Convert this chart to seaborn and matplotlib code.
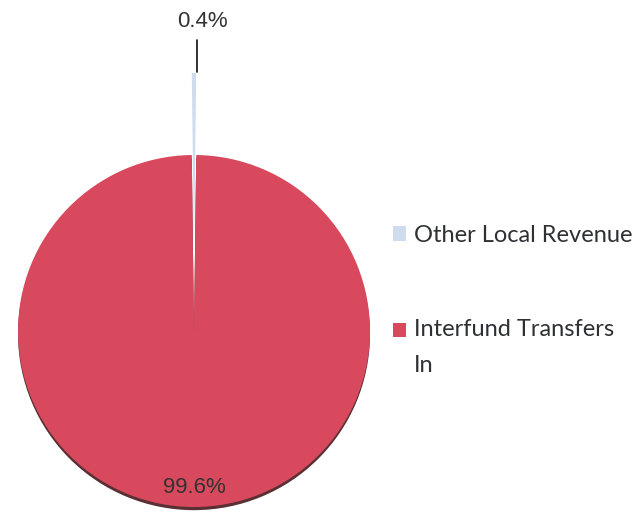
import seaborn as sns
import matplotlib.pyplot as plt
from matplotlib.patches import Rectangle
from matplotlib.legend_handler import HandlerPatch

# Revenue share (percent)
categories = ["Other Local Revenue", "Interfund Transfers\nIn"]
shares = [0.4, 99.6]
pie_colors = ["#cfdcee", "#d8495d"]

sns.set_theme(style="white")
plt.rcParams['font.family'] = ['Liberation Sans', 'DejaVu Sans']

fig = plt.figure(figsize=(6.38, 5.12), dpi=100)
ax = fig.add_axes([0, 0, 1, 1])

# pie centre at (194, 331) px, radius 176 px
r_px = 176
xlim = (-194 / r_px, (638 - 194) / r_px)
ylim = (-(512 - 331) / r_px, 331 / r_px)
start = 90 - shares[0] * 3.6 / 2

# dark rim under the big slice
ax.pie(shares, colors=["none", "#5a3034"], startangle=start, radius=1.0,
       center=(0, -0.018), frame=True, wedgeprops=dict(linewidth=0))

wedges, texts, autotexts = ax.pie(
    shares, colors=pie_colors, startangle=start,
    explode=[0.466, 0], radius=1.0, autopct='%1.1f%%', pctdistance=0.89,
    textprops=dict(fontsize=16, color="#333333"), frame=True,
    wedgeprops=dict(linewidth=0),
)
ax.set_xlim(*xlim)
ax.set_ylim(*ylim)
ax.set_aspect('auto')
ax.axis('off')

# small slice label above the pie with a vertical leader line
autotexts[0].set_visible(False)
ax.text(0.05, 1.76, f"{shares[0]:.1f}%", ha='center', va='center',
        fontsize=16, color="#333333")
ax.annotate("", xy=(0.017, 1.472), xytext=(0.017, 1.653),
            arrowprops=dict(arrowstyle='-', color='#222222', lw=1.3,
                            shrinkA=0, shrinkB=0))


# put the square of the two-line entry next to its first line
def top_square(legend, orig_handle, xdescent, ydescent, width, height, fontsize):
    return Rectangle((-xdescent, -ydescent + 12.6), width, height)


leg = fig.legend(wedges, categories, loc='upper left',
                 bbox_to_anchor=(0.582, 0.603), frameon=False,
                 prop=dict(family='Lato', size=17), labelcolor="#2e3033",
                 handlelength=0.58, handleheight=0.58, handletextpad=0.33,
                 labelspacing=3.1,
                 handler_map={wedges[1]: HandlerPatch(patch_func=top_square)})
for t in leg.get_texts():
    t.set_linespacing(1.9)

plt.savefig("out.png", dpi=100)
